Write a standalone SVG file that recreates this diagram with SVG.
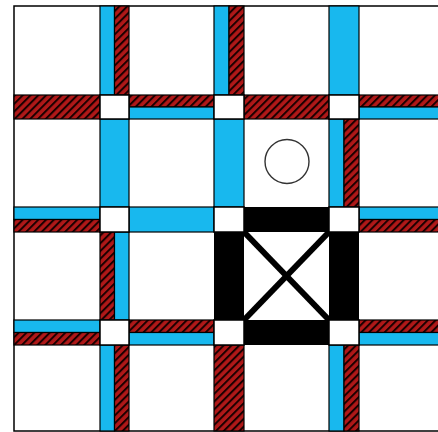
<svg xmlns="http://www.w3.org/2000/svg" width="438" height="432" viewBox="0 0 438 432">
  <style>
    .b{fill:#18b8ee;stroke:#000;stroke-width:1.2}
    .r{fill:url(#hatch);stroke:#000;stroke-width:1.2}
    .k{fill:#000}
    .j{fill:#fff;stroke:#000;stroke-width:1.5}
  </style>
  <defs>
    <pattern id="hatch" patternUnits="userSpaceOnUse" width="5.5" height="5.5" patternTransform="rotate(45)">
      <rect width="5.5" height="5.5" fill="#b01818"/>
      <rect x="0" y="0" width="2" height="5.5" fill="#1a0000"/>
    </pattern>
  </defs>
  <rect x="0" y="0" width="438" height="432" fill="#fff"/>
  <rect id="border" x="14" y="6" width="440" height="425" fill="#fff" stroke="#000" stroke-width="1.5"/>
  <g id="corridors">
    <!-- column 1 -->
    <rect class="b" x="100" y="6" width="14.5" height="89"/>
    <rect class="r" x="114.5" y="6" width="14.5" height="89"/>
    <rect class="b" x="100" y="119" width="29" height="88"/>
    <rect class="r" x="100" y="232" width="14.5" height="88"/>
    <rect class="b" x="114.5" y="232" width="14.5" height="88"/>
    <rect class="b" x="100" y="345" width="14.5" height="86"/>
    <rect class="r" x="114.5" y="345" width="14.5" height="86"/>
    <!-- column 2 -->
    <rect class="b" x="214" y="6" width="15" height="89"/>
    <rect class="r" x="229" y="6" width="15" height="89"/>
    <rect class="b" x="214" y="119" width="30" height="88"/>
    <rect class="r" x="214" y="345" width="30" height="86"/>
    <!-- column 3 -->
    <rect class="b" x="329" y="6" width="30" height="89"/>
    <rect class="b" x="329" y="119" width="15" height="88"/>
    <rect class="r" x="344" y="119" width="15" height="88"/>
    <rect class="b" x="329" y="345" width="15" height="86"/>
    <rect class="r" x="344" y="345" width="15" height="86"/>
    <!-- row 1 -->
    <rect class="r" x="14" y="95" width="86" height="24"/>
    <rect class="r" x="129" y="95" width="85" height="12"/>
    <rect class="b" x="129" y="107" width="85" height="12"/>
    <rect class="r" x="244" y="95" width="85" height="24"/>
    <rect class="r" x="359" y="95" width="90" height="12"/>
    <rect class="b" x="359" y="107" width="90" height="12"/>
    <!-- row 2 -->
    <rect class="b" x="14" y="207" width="86" height="12.5"/>
    <rect class="r" x="14" y="219.5" width="86" height="12.5"/>
    <rect class="b" x="129" y="207" width="85" height="25"/>
    <rect class="b" x="359" y="207" width="90" height="12.5"/>
    <rect class="r" x="359" y="219.5" width="90" height="12.5"/>
    <!-- row 3 -->
    <rect class="b" x="14" y="320" width="86" height="12.5"/>
    <rect class="r" x="14" y="332.5" width="86" height="12.5"/>
    <rect class="r" x="129" y="320" width="85" height="12.5"/>
    <rect class="b" x="129" y="332.5" width="85" height="12.5"/>
    <rect class="r" x="359" y="320" width="90" height="12.5"/>
    <rect class="b" x="359" y="332.5" width="90" height="12.5"/>
  </g>
  <g id="room">
    <rect class="k" x="214" y="207" width="145" height="138"/>
    <rect x="244" y="232" width="85" height="88" fill="#fff"/>
    <line x1="244" y1="232" x2="329" y2="320" stroke="#000" stroke-width="6"/>
    <line x1="329" y1="232" x2="244" y2="320" stroke="#000" stroke-width="6"/>
  </g>
  <g id="junctions">
    <rect class="j" x="100" y="95" width="29" height="24"/>
    <rect class="j" x="214" y="95" width="30" height="24"/>
    <rect class="j" x="329" y="95" width="30" height="24"/>
    <rect class="j" x="100" y="207" width="29" height="25"/>
    <rect class="j" x="214" y="207" width="30" height="25"/>
    <rect class="j" x="329" y="207" width="30" height="25"/>
    <rect class="j" x="100" y="320" width="29" height="25"/>
    <rect class="j" x="214" y="320" width="30" height="25"/>
    <rect class="j" x="329" y="320" width="30" height="25"/>
  </g>
  <g id="marker">
    <circle cx="287" cy="161.5" r="22" fill="#fff" stroke="#333" stroke-width="1.4"/>
  </g>
</svg>
